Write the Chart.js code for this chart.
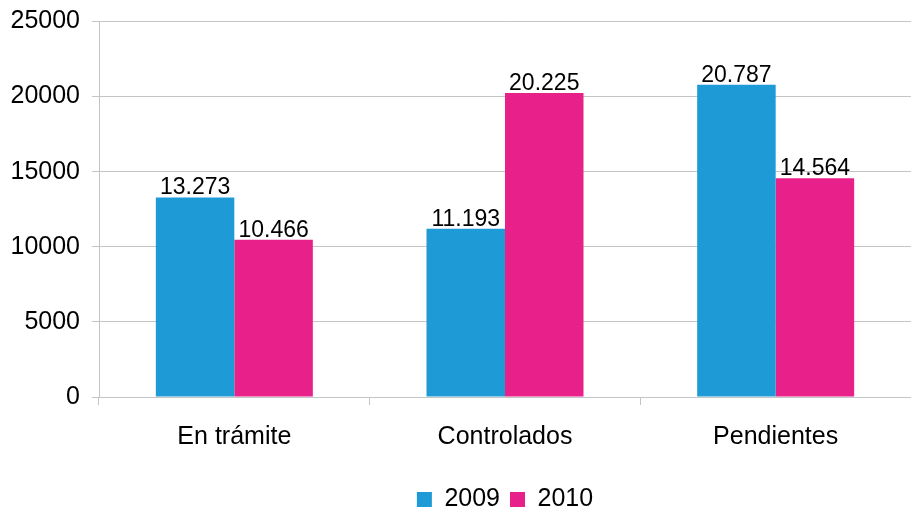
<!DOCTYPE html>
<html>
<head>
<meta charset="utf-8">
<script src="https://cdn.jsdelivr.net/npm/chart.js@4/dist/chart.umd.min.js"></script>
<style>
  html, body { margin: 0; padding: 0; background: #fff; }
  #wrap { width: 911px; height: 507px; }
</style>
</head>
<body>
<div id="wrap"><canvas id="chart"></canvas></div>
<script>
'use strict';

const categories = ['En trámite', 'Controlados', 'Pendientes'];
const values2009 = [13273, 11193, 20787];
const values2010 = [10466, 20225, 14564];
const yTicks     = [0, 5000, 10000, 15000, 20000, 25000];

const BLUE = '#1E9BD7';
const PINK = '#E8208A';
const GRID = '#C4C4C4';
const FONT = '"Liberation Sans", Arial, sans-serif';

// 13273 -> "13.273"
function fmt(v) {
  return String(v).replace(/\B(?=(\d{3})+(?!\d))/g, '.');
}

const barLabels = {
  id: 'barLabels',
  afterDatasetsDraw(chart) {
    const ctx = chart.ctx;
    ctx.save();
    ctx.font = '23px ' + FONT;
    ctx.fillStyle = '#000';
    ctx.textAlign = 'center';
    ctx.textBaseline = 'bottom';
    chart.data.datasets.forEach((ds, i) => {
      chart.getDatasetMeta(i).data.forEach((bar, j) => {
        ctx.fillText(fmt(ds.data[j]), bar.x, bar.y + 2);
      });
    });
    ctx.restore();
  }
};

// legend sits lower and is centred under the plot area, not the canvas
const legendShift = {
  id: 'legendShift',
  afterLayout(chart) {
    const lg = chart.legend;
    if (!lg) return;
    const dx = (chart.chartArea.left + chart.chartArea.right) / 2 - (lg.left + lg.right) / 2;
    lg.top += 15;
    lg.bottom += 15;
    lg.left += dx;
    lg.right += dx;
  }
};

new Chart(document.getElementById('chart'), {
  type: 'bar',
  data: {
    labels: categories,
    datasets: [
      { label: '2009', data: values2009, backgroundColor: BLUE },
      { label: '2010', data: values2010, backgroundColor: PINK },
    ],
  },
  options: {
    responsive: true,
    maintainAspectRatio: false,
    animation: false,
    layout: { padding: { top: 0, right: 0, left: 0, bottom: 0 } },
    datasets: { bar: { categoryPercentage: 0.58, barPercentage: 1.0 } },
    plugins: {
      legend: {
        position: 'bottom',
        labels: {
          color: '#000',
          font: { family: FONT, size: 25 },
          boxWidth: 15,
          boxHeight: 15,
          padding: 10,
        },
      },
      tooltip: { enabled: false },
    },
    scales: {
      x: {
        offset: true,
        afterFit: scale => { scale.height -= 7; },
        grid: { offset: true, drawOnChartArea: false, drawTicks: true, tickLength: 8, color: GRID },
        border: { color: GRID },
        ticks: { color: '#000', font: { family: FONT, size: 25 }, padding: 17 },
      },
      y: {
        min: 0,
        max: 25000,
        afterFit: scale => { scale.width = 99; },
        afterBuildTicks: scale => { scale.ticks = yTicks.map(v => ({ value: v })); },
        grid: { color: GRID, tickLength: 7 },
        border: { color: GRID },
        ticks: {
          color: '#000',
          font: { family: FONT, size: 25, lineHeight: 0.75 },
          padding: 12,
          callback: v => String(v),
        },
      },
    },
  },
  plugins: [barLabels, legendShift],
});
</script>
</body>
</html>
